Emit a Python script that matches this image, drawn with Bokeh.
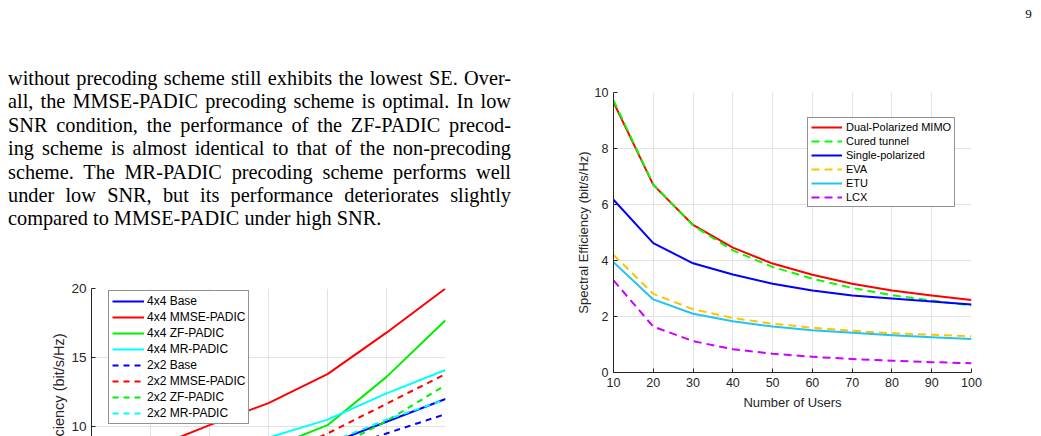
from math import pi

from bokeh.core.properties import value
from bokeh.embed import file_html
from bokeh.layouts import column, row
from bokeh.models import Div, FixedTicker, Range1d
from bokeh.plotting import figure
from bokeh.resources import INLINE

# ---- spectral efficiency versus number of users ----
users = [10, 20, 30, 40, 50, 60, 70, 80, 90, 100]
se_dual_pol = [9.65, 6.70, 5.27, 4.46, 3.89, 3.49, 3.17, 2.93, 2.75, 2.59]
se_cured = [9.72, 6.72, 5.25, 4.36, 3.77, 3.35, 3.02, 2.76, 2.57, 2.39]
se_single = [6.17, 4.62, 3.90, 3.50, 3.17, 2.93, 2.75, 2.64, 2.54, 2.43]
se_eva = [4.20, 2.81, 2.26, 1.95, 1.74, 1.60, 1.49, 1.40, 1.35, 1.29]
se_etu = [3.94, 2.61, 2.10, 1.83, 1.64, 1.51, 1.42, 1.33, 1.26, 1.20]
se_lcx = [3.29, 1.64, 1.12, 0.83, 0.67, 0.56, 0.48, 0.42, 0.37, 0.33]
users_ticks = [10, 20, 30, 40, 50, 60, 70, 80, 90, 100]
se_ticks = [0, 2, 4, 6, 8, 10]

# ---- spectral efficiency versus SNR for the precoding schemes ----
snr_db = [0, 5, 10, 15, 20, 25, 30]
se_4x4_base = [3.0, 4.1, 5.3, 6.9, 8.7, 10.35, 12.0]
se_4x4_mmse = [6.9, 8.4, 10.1, 11.7, 13.8, 16.8, 20.0]
se_4x4_zf = [4.0, 5.2, 6.6, 8.4, 10.1, 13.6, 17.7]
se_4x4_mr = [4.5, 5.8, 7.3, 9.2, 10.5, 12.4, 14.1]
se_2x2_base = [2.6, 3.5, 4.6, 6.3, 8.1, 9.5, 10.9]
se_2x2_mmse = [3.3, 4.5, 5.9, 7.6, 9.5, 11.65, 13.8]
se_2x2_zf = [2.4, 3.4, 4.7, 6.3, 8.2, 10.4, 13.0]
se_2x2_mr = [3.2, 4.3, 5.6, 7.1, 8.8, 10.5, 11.95]
snr_se_ticks = [0, 5, 10, 15, 20]

paragraph = [
    "without precoding scheme still exhibits the lowest SE. Over-",
    "all, the MMSE-PADIC precoding scheme is optimal. In low",
    "SNR condition, the performance of the ZF-PADIC precod-",
    "ing scheme is almost identical to that of the non-precoding",
    "scheme. The MR-PADIC precoding scheme performs well",
    "under low SNR, but its performance deteriorates slightly",
    "compared to MMSE-PADIC under high SNR.",
]
page_number = "9"
se_axis_title = "Spectral Efficiency (bit/s/Hz)"

SANS = "Liberation Sans"
SERIF = "Liberation Serif"
INK = "#262626"
GRID = "#e2e2e2"


def style_axes(p, tick_size, label_size):
    p.outline_line_color = None
    p.background_fill_color = "white"
    p.border_fill_color = "white"
    for ax in p.axis:
        ax.axis_line_color = INK
        ax.axis_line_width = 1
        ax.major_tick_line_color = INK
        ax.major_tick_in = 4
        ax.major_tick_out = 0
        ax.minor_tick_line_color = None
        ax.major_label_text_font = SANS
        ax.major_label_text_font_size = tick_size
        ax.major_label_text_color = INK
        ax.axis_label_text_font = SANS
        ax.axis_label_text_font_size = label_size
        ax.axis_label_text_font_style = "normal"
        ax.axis_label_text_color = INK
    p.grid.grid_line_color = GRID
    p.grid.grid_line_width = 1


def style_legend(leg, font_size, row_h, spacing, padding, glyph_w, standoff):
    leg.label_text_font = SANS
    leg.label_text_font_size = font_size
    leg.label_text_color = "#000000"
    leg.label_height = row_h
    leg.glyph_height = row_h
    leg.glyph_width = glyph_w
    leg.label_standoff = standoff
    leg.spacing = spacing
    leg.padding = padding
    leg.margin = 0
    leg.border_line_color = INK
    leg.border_line_width = 1
    leg.background_fill_color = "white"
    leg.background_fill_alpha = 1.0


def blank_canvas(width, height):
    """A figure with a pixel-like coordinate system and nothing else drawn."""
    c = figure(width=width, height=height, x_range=Range1d(0, width),
               y_range=Range1d(height, 0), x_axis_location=None, y_axis_location=None,
               min_border=0, toolbar_location=None, output_backend="svg")
    c.outline_line_color = None
    c.grid.visible = False
    return c


# ---- page number strip ----
strip = blank_canvas(1041, 30)
strip.text(x=[1028], y=[13], text=[page_number], text_font=value(SERIF),
           text_font_size="13px", text_align="center", text_baseline="middle",
           text_color="#000000")

# ---- body paragraph ----
rows_html = []
for i, line in enumerate(paragraph):
    if i == len(paragraph) - 1:
        css = "white-space:nowrap;text-align:left;"
    else:
        css = "white-space:nowrap;text-align:justify;text-align-last:justify;"
    rows_html.append(f'<div style="{css}">{line}</div>')
text_html = (
    f'<div style="font-family:\'{SERIF}\';font-size:20.3px;line-height:23.4px;'
    f'color:#000;width:503px;margin:37px 0 0 8px;">' + "".join(rows_html) + "</div>"
)
body = Div(text=text_html, width=560, height=230, margin=0)

# ---- precoding chart (upper part of the page's lower-left figure) ----
# its vertical title sits in a narrow strip of its own, cut by the page bottom
title_strip = blank_canvas(68, 176)
title_strip.text(x=[58.3], y=[161], text=[se_axis_title], angle=pi / 2,
                 text_font=value(SANS), text_font_size="14.5px", text_color=INK,
                 text_align="center", text_baseline="middle")

pl = figure(width=492, height=176, x_range=Range1d(0, 30), y_range=Range1d(9.28, 20),
            x_axis_location=None, min_border_left=20, min_border_right=115,
            min_border_top=28, min_border_bottom=0,
            toolbar_location=None, output_backend="svg")
style_axes(pl, "13.5px", "14.5px")
pl.yaxis.ticker = FixedTicker(ticks=snr_se_ticks)
pl.yaxis.major_label_standoff = 5
pl.xgrid.ticker = FixedTicker(ticks=snr_db)

snr_series = [
    (se_4x4_base, "#0000ff", "solid", "4x4 Base"),
    (se_4x4_mmse, "#ff0000", "solid", "4x4 MMSE-PADIC"),
    (se_4x4_zf, "#00ee00", "solid", "4x4 ZF-PADIC"),
    (se_4x4_mr, "#00ffff", "solid", "4x4 MR-PADIC"),
    (se_2x2_base, "#0000ff", "6 5", "2x2 Base"),
    (se_2x2_mmse, "#ff0000", "6 5", "2x2 MMSE-PADIC"),
    (se_2x2_zf, "#00ee00", "6 5", "2x2 ZF-PADIC"),
    (se_2x2_mr, "#00ffff", "6 5", "2x2 MR-PADIC"),
]
for ys, color, dash, name in snr_series:
    pl.line(snr_db, ys, line_color=color, line_width=2, line_dash=dash,
            line_join="round", legend_label=name)

style_legend(pl.legend[0], "12px", 14, 2, 3, 32, 3)
pl.legend[0].location = (17, 12)

# ---- spectral efficiency versus number of users ----
pr = figure(width=481, height=406, x_range=Range1d(10, 100), y_range=Range1d(0, 10),
            min_border_left=53, min_border_right=70, min_border_top=62, min_border_bottom=64,
            toolbar_location=None, output_backend="svg")
style_axes(pr, "12.5px", "13px")
pr.xaxis.ticker = FixedTicker(ticks=users_ticks)
pr.yaxis.ticker = FixedTicker(ticks=se_ticks)
pr.xaxis.major_label_standoff = 5
pr.yaxis.major_label_standoff = 5
pr.xaxis.axis_label = "Number of Users"
pr.yaxis.axis_label = se_axis_title
pr.xaxis.axis_label_standoff = 5
pr.yaxis.axis_label_standoff = 1

user_series = [
    (se_dual_pol, "#ff0000", "solid", "Dual-Polarized MIMO"),
    (se_cured, "#00ff00", "8 5", "Cured tunnel"),
    (se_single, "#0000ff", "solid", "Single-polarized"),
    (se_eva, "#ffc400", "8 5", "EVA"),
    (se_etu, "#20c4f4", "solid", "ETU"),
    (se_lcx, "#cc00ff", "8 5", "LCX"),
]
for ys, color, dash, name in user_series:
    pr.line(users, ys, line_color=color, line_width=2, line_dash=dash,
            line_join="round", legend_label=name)

style_legend(pr.legend[0], "11px", 12, 2, 3, 31, 4)
pr.legend[0].location = (194, 165)

page = column(strip, row(column(body, row(title_strip, pl)), pr))

with open("out.html", "w") as fh:
    fh.write(file_html(page, INLINE, title="Spectral efficiency"))
